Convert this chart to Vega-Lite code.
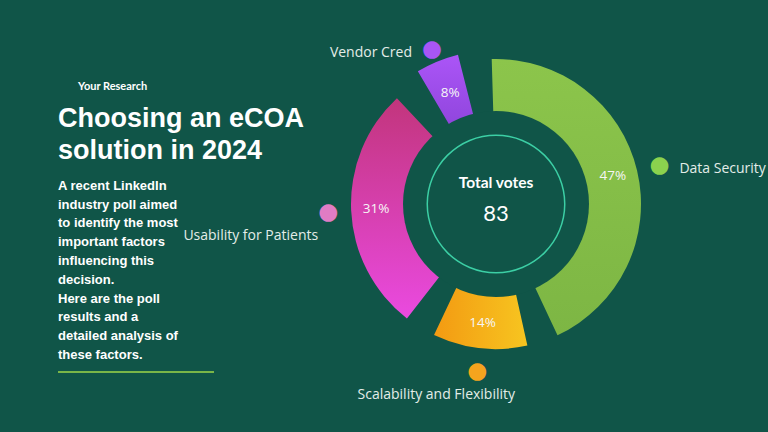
{
  "$schema": "https://vega.github.io/schema/vega-lite/v6.json",
  "background": "#105548",
  "padding": {"left": 57, "top": 37, "right": 60, "bottom": 40},
  "bounds": "flush",
  "spacing": 78,
  "config": {"view": {"stroke": null}},
  "title": {
    "text": "Your Research",
    "anchor": "start",
    "frame": "group",
    "font": "Lato",
    "fontSize": 11,
    "fontWeight": "bold",
    "color": "#ffffff",
    "dx": 20,
    "dy": 54,
    "offset": 0
  },
  "hconcat": [
    {
      "width": 156,
      "height": 272,
      "title": {
        "text": ["Choosing an eCOA", "solution in 2024"],
        "subtitle": [
          "A recent LinkedIn",
          "industry poll aimed",
          "to identify the most",
          "important factors",
          "influencing this",
          "decision.",
          "Here are the poll",
          "results and a",
          "detailed analysis of",
          "these factors."
        ],
        "anchor": "start",
        "frame": "group",
        "font": "Liberation Sans",
        "fontSize": 27,
        "fontWeight": "bold",
        "color": "#ffffff",
        "lineHeight": 32,
        "subtitleFont": "Liberation Sans",
        "subtitleFontSize": 13,
        "subtitleFontWeight": "bold",
        "subtitleColor": "#ffffff",
        "subtitleLineHeight": 18.8,
        "subtitlePadding": 15,
        "dy": 263,
        "offset": 0
      },
      "data": {"values": [{}]},
      "mark": {"type": "rule", "color": "#7ab648", "strokeWidth": 2},
      "encoding": {
        "x": {"datum": 0, "type": "quantitative", "scale": {"domain": [0, 1]}, "axis": null},
        "x2": {"datum": 1},
        "y": {"datum": 0, "type": "quantitative", "scale": {"domain": [0, 1]}, "axis": null}
      }
    },
    {
      "width": 408,
      "height": 208,
      "data": {
        "values": [
          {"factor": "Data Security", "share": 0.47},
          {"factor": "Scalability and Flexibility", "share": 0.14},
          {"factor": "Usability for Patients", "share": 0.31},
          {"factor": "Vendor Cred", "share": 0.08}
        ]
      },
      "transform": [
        {"stack": "share", "groupby": [], "sort": [{"field": "factor", "order": "ascending"}], "as": ["s0", "s1"]},
        {"calculate": "(datum.s0 + datum.s1) / 2", "as": "mid"}
      ],
      "layer": [
        {
          "transform": [{"filter": "datum.factor === 'Data Security'"}],
          "mark": {"type": "arc", "innerRadius": 88, "outerRadius": 145, "thetaOffset": 0.11, "theta2Offset": -0.11,
            "color": {"gradient": "linear", "x1": 0, "y1": 0, "x2": 0, "y2": 1, "stops": [{"offset": 0, "color": "#8cc54b"}, {"offset": 1, "color": "#7db644"}]}},
          "encoding": {
            "theta": {"field": "s0", "type": "quantitative", "scale": {"domain": [0, 1], "range": [-0.1396, 6.1436]}},
            "theta2": {"field": "s1"}
          }
        },
        {
          "transform": [{"filter": "datum.factor === 'Scalability and Flexibility'"}],
          "mark": {"type": "arc", "innerRadius": 88, "outerRadius": 145, "thetaOffset": 0.11, "theta2Offset": -0.11,
            "color": {"gradient": "linear", "x1": 0, "y1": 0, "x2": 1, "y2": 0, "stops": [{"offset": 0, "color": "#f39a12"}, {"offset": 1, "color": "#f7c520"}]}},
          "encoding": {
            "theta": {"field": "s0", "type": "quantitative"},
            "theta2": {"field": "s1"}
          }
        },
        {
          "transform": [{"filter": "datum.factor === 'Usability for Patients'"}],
          "mark": {"type": "arc", "innerRadius": 88, "outerRadius": 145, "thetaOffset": 0.11, "theta2Offset": -0.11,
            "color": {"gradient": "linear", "x1": 0, "y1": 0, "x2": 0, "y2": 1, "stops": [{"offset": 0, "color": "#c2357c"}, {"offset": 1, "color": "#ea4ae0"}]}},
          "encoding": {
            "theta": {"field": "s0", "type": "quantitative"},
            "theta2": {"field": "s1"}
          }
        },
        {
          "transform": [{"filter": "datum.factor === 'Vendor Cred'"}],
          "mark": {"type": "arc", "innerRadius": 88, "outerRadius": 154, "thetaOffset": 0.11, "theta2Offset": -0.11,
            "color": {"gradient": "linear", "x1": 0, "y1": 0, "x2": 0, "y2": 1, "stops": [{"offset": 0, "color": "#ab55f7"}, {"offset": 1, "color": "#8f45dc"}]}},
          "encoding": {
            "theta": {"field": "s0", "type": "quantitative"},
            "theta2": {"field": "s1"}
          }
        },
        {
          "data": {"values": [{"label": "Total votes", "votes": 83}]},
          "mark": {"type": "arc", "outerRadius": 93, "color": "#105548"},
          "encoding": {}
        },
        {
          "data": {"values": [{"label": "Total votes", "votes": 83}]},
          "mark": {"type": "arc", "innerRadius": 68, "outerRadius": 69.5, "color": "#3ccfa5"},
          "encoding": {}
        },
        {
          "data": {"values": [{"label": "Total votes", "votes": 83}]},
          "mark": {"type": "text", "font": "Lato", "fontSize": 15.5, "fontWeight": "bold", "color": "#ffffff", "dy": -21},
          "encoding": {"text": {"field": "label"}}
        },
        {
          "data": {"values": [{"label": "Total votes", "votes": 83}]},
          "mark": {"type": "text", "font": "Lato", "fontSize": 22, "color": "#ffffff", "dy": 10},
          "encoding": {"text": {"field": "votes"}}
        },
        {
          "mark": {"type": "text", "radius": 120, "font": "Open Sans", "fontSize": 13.5, "color": "#f6f6f6"},
          "encoding": {
            "theta": {"field": "mid", "type": "quantitative"},
            "text": {"field": "share", "format": ".0%"}
          }
        },
        {
          "mark": {"type": "text", "radius": 168, "font": "DejaVu Sans", "fontSize": 23},
          "encoding": {
            "theta": {"field": "mid", "type": "quantitative"},
            "text": {"value": "●"},
            "color": {"field": "factor", "type": "nominal", "legend": null,
              "scale": {"domain": ["Data Security", "Scalability and Flexibility", "Usability for Patients", "Vendor Cred"],
                        "range": ["#8bd24e", "#f5a41e", "#e07cc4", "#a856f5"]}}
          }
        },
        {
          "transform": [{"filter": "datum.factor === 'Data Security'"}],
          "mark": {"type": "text", "radius": 168, "dx": 20, "dy": 4, "align": "left", "font": "Open Sans", "fontSize": 14, "color": "#e3ede8"},
          "encoding": {"theta": {"field": "mid", "type": "quantitative"}, "text": {"field": "factor"}}
        },
        {
          "transform": [{"filter": "datum.factor === 'Scalability and Flexibility'"}],
          "mark": {"type": "text", "radius": 168, "dx": -41, "dy": 24, "align": "center", "font": "Open Sans", "fontSize": 14, "color": "#e3ede8"},
          "encoding": {"theta": {"field": "mid", "type": "quantitative"}, "text": {"field": "factor"}}
        },
        {
          "transform": [{"filter": "datum.factor === 'Usability for Patients'"}],
          "mark": {"type": "text", "radius": 168, "dx": -10, "dy": 24, "align": "right", "font": "Open Sans", "fontSize": 14, "color": "#e3ede8"},
          "encoding": {"theta": {"field": "mid", "type": "quantitative"}, "text": {"field": "factor"}}
        },
        {
          "transform": [{"filter": "datum.factor === 'Vendor Cred'"}],
          "mark": {"type": "text", "radius": 168, "dx": -20, "dy": 4, "align": "right", "font": "Open Sans", "fontSize": 14, "color": "#e3ede8"},
          "encoding": {"theta": {"field": "mid", "type": "quantitative"}, "text": {"field": "factor"}}
        }
      ]
    }
  ]
}
